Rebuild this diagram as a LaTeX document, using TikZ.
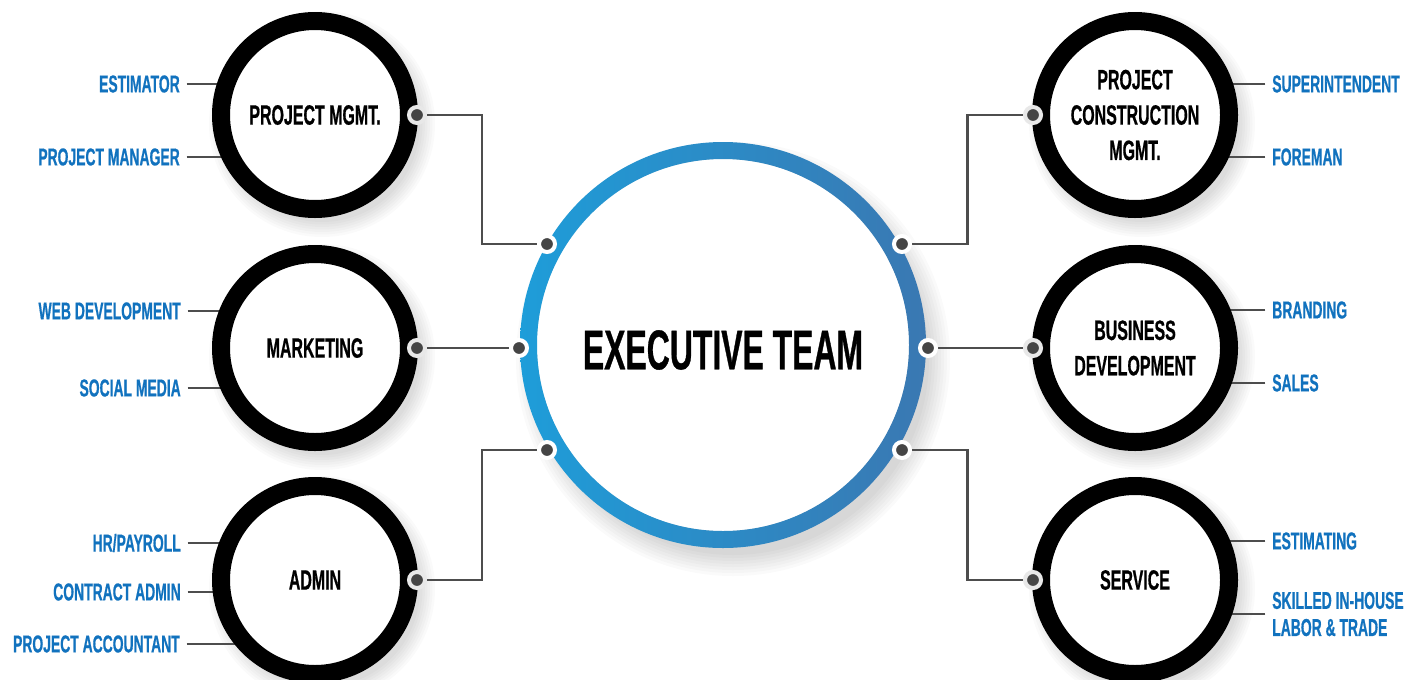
\documentclass[tikz,border=0pt]{standalone}
\usepackage{fontspec}
\newfontfamily\bebas{Liberation Sans}[FakeStretch=0.57,FakeBold=0.6]
\usetikzlibrary{calc}
\definecolor{lblue}{HTML}{1172BE}
\definecolor{dotc}{HTML}{454545}
\definecolor{connc}{HTML}{4D4D4D}
\definecolor{ringA}{HTML}{1E9DD9}
\definecolor{ringB}{HTML}{3A78B2}
\pgfdeclarelayer{bg}
\pgfdeclarelayer{back}
\pgfsetlayers{back,bg,main}
\begin{document}
\begin{tikzpicture}[x=0.75pt,y=-0.75pt,
  sat/.style={circle, draw=black, line width=13.5pt, fill=white, minimum size=141pt,
    inner sep=0pt, align=center, font=\bebas\bfseries\fontsize{21}{26.5}\selectfont},
  blab/.style={text=lblue, inner sep=0pt, align=left, font=\bebas\bfseries\fontsize{18.3}{20.3}\selectfont},
  jdot/.style={circle, fill=dotc, draw=#1, line width=3pt, minimum size=12pt, inner sep=0pt},
  jdot/.default=white,
  conn/.style={draw=connc, line width=1.6pt},
  lline/.style={draw=connc, line width=1pt},
  shad/.style={fill=black, opacity=0.02}]
\useasboundingbox (0,0) rectangle (1406,679);
\begin{pgfonlayer}{back}
\fill[white] (0,0) rectangle (1406,679);
\end{pgfonlayer}

% satellite circles
\node[sat] (pm) at (315,115) {PROJECT MGMT.};
\node[sat] (mk) at (315,348) {MARKETING};
\node[sat] (ad) at (315,580) {ADMIN};
\node[sat] (pc) at (1135,115) {PROJECT\\CONSTRUCTION\\MGMT.};
\node[sat] (bd) at (1135,348) {BUSINESS\\DEVELOPMENT};
\node[sat] (sv) at (1135,580) {SERVICE};

% central circle
\coordinate (ec) at (723,345);
\begin{pgfonlayer}{back}
  \foreach \c in {pm,mk,ad,pc,bd,sv}{
    \foreach \k in {0,...,6}{
      \fill[shad] ($(\c)+(7,9)$) circle [radius={(98+2.5*\k)*0.75pt}];
    }
  }
  \foreach \k in {0,...,7}{
    \fill[shad] ($(ec)+(10,14)$) circle [radius={(196+3*\k)*0.75pt}];
  }
\end{pgfonlayer}
\fill[white] (ec) circle (139.5pt);
\shade[even odd rule, left color=ringA, right color=ringB] (ec) circle (152.25pt) (ec) circle (139.5pt);
\node[inner sep=0pt, font=\bebas\bfseries\fontsize{42}{48}\selectfont] (exec) at (723,350) {EXECUTIVE TEAM};

% dots
\node[jdot=gray!18] (dpm) at (417,115) {};
\node[jdot=gray!18] (dmk) at (417,348) {};
\node[jdot=gray!18] (dad) at (417,580) {};
\node[jdot=gray!18] (dpc) at (1033,115) {};
\node[jdot=gray!18] (dbd) at (1033,348) {};
\node[jdot=gray!18] (dsv) at (1033,580) {};
\node[jdot] (e1) at (547,244) {};
\node[jdot] (e2) at (519,348) {};
\node[jdot] (e3) at (547,450) {};
\node[jdot] (e4) at (902,244) {};
\node[jdot] (e5) at (928,348) {};
\node[jdot] (e6) at (902,450) {};

% connectors
\begin{pgfonlayer}{bg}
\coordinate (m1) at ($(dpm)!0.5!(e1)$);
\coordinate (m3) at ($(dad)!0.5!(e3)$);
\coordinate (m4) at ($(dpc)!0.5!(e4)$);
\coordinate (m6) at ($(dsv)!0.5!(e6)$);
\draw[conn] (dpm.center) -| (m1) |- (e1.center);
\draw[conn] (dmk.center) -- (e2.center);
\draw[conn] (dad.center) -| (m3) |- (e3.center);
\draw[conn] (e4.center) -| (m4) |- (dpc.center);
\draw[conn] (e5.center) -- (dbd.center);
\draw[conn] (e6.center) -| (m6) |- (dsv.center);
\end{pgfonlayer}

% left labels
\node[blab, anchor=east] (l1) at (180,84) {ESTIMATOR};
\node[blab, anchor=east] (l2) at (180,157) {PROJECT MANAGER};
\node[blab, anchor=east] (l3) at (181,311) {WEB DEVELOPMENT};
\node[blab, anchor=east] (l4) at (181,388) {SOCIAL MEDIA};
\node[blab, anchor=east] (l5) at (181,543) {HR/PAYROLL};
\node[blab, anchor=east] (l6) at (181,592) {CONTRACT ADMIN};
\node[blab, anchor=east] (l7) at (180,644) {PROJECT ACCOUNTANT};
% right labels
\node[blab, anchor=west] (r1) at (1272,84) {SUPERINTENDENT};
\node[blab, anchor=west] (r2) at (1272,157) {FOREMAN};
\node[blab, anchor=west] (r3) at (1272,310) {BRANDING};
\node[blab, anchor=west] (r4) at (1272,383) {SALES};
\node[blab, anchor=west] (r5) at (1272,541) {ESTIMATING};
\node[blab, anchor=west] (r6) at (1272,614) {SKILLED IN-HOUSE\\LABOR \& TRADE};

\begin{pgfonlayer}{bg}
\draw[lline] ([xshift=5pt]l1.east) -- (l1.east -| pm.center);
\draw[lline] ([xshift=5pt]l2.east) -- (l2.east -| pm.center);
\draw[lline] ([xshift=5pt]l3.east) -- (l3.east -| mk.center);
\draw[lline] ([xshift=5pt]l4.east) -- (l4.east -| mk.center);
\draw[lline] ([xshift=5pt]l5.east) -- (l5.east -| ad.center);
\draw[lline] ([xshift=5pt]l6.east) -- (l6.east -| ad.center);
\draw[lline] ([xshift=5pt]l7.east) -- (l7.east -| ad.center);
\draw[lline] ([xshift=-5pt]r1.west) -- (r1.west -| pc.center);
\draw[lline] ([xshift=-5pt]r2.west) -- (r2.west -| pc.center);
\draw[lline] ([xshift=-5pt]r3.west) -- (r3.west -| bd.center);
\draw[lline] ([xshift=-5pt]r4.west) -- (r4.west -| bd.center);
\draw[lline] ([xshift=-5pt]r5.west) -- (r5.west -| sv.center);
\draw[lline] ([xshift=-5pt]r6.west) -- (r6.west -| sv.center);
\end{pgfonlayer}
\end{tikzpicture}
\end{document}
